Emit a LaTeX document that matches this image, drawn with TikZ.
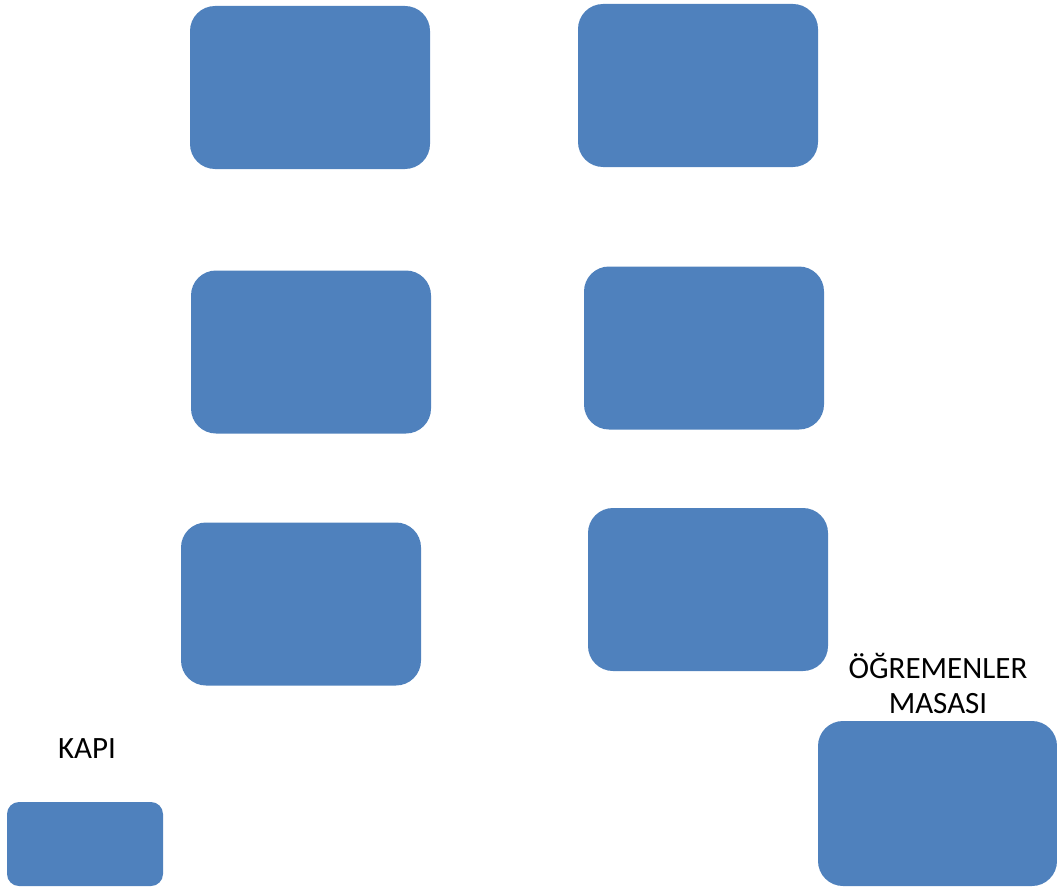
\documentclass[tikz,border=0pt]{standalone}
\usepackage{fontspec}
\setmainfont{Carlito}
\usetikzlibrary{positioning}

\begin{document}
\begin{tikzpicture}[x=1pt, y=-1pt]
        % Define styles
        \tikzset{
            desk/.style={fill=deskblue, draw=none, rounded corners=25pt,
                minimum width=240pt, minimum height=163pt, inner sep=0pt},
            doorbox/.style={fill=deskblue, draw=none, rounded corners=12pt,
                minimum width=156pt, minimum height=84pt, inner sep=0pt},
            label/.style={font=\fontsize{31}{35}\selectfont, align=center, inner sep=0pt}
        }
        \definecolor{deskblue}{HTML}{4F81BD}
        \useasboundingbox (0,0) rectangle (1057,888);
        % Student desks, left row
        \node[desk] (deskA) at (310,87.5) {};
        \node[desk] (deskC) at (311,352) {};
        \node[desk] (deskE) at (301,604) {};
        % Student desks, right row
        \node[desk] (deskB) at (698,85.5) {};
        \node[desk] (deskD) at (704,348) {};
        \node[desk] (deskF) at (708,589.5) {};
        % Door
        \node[doorbox] (door) at (85,844) {};
        \node[label, anchor=base] (doorlabel) at (87,758.5) {KAPI};
        % Teacher's desk
        \node[desk, minimum width=239pt, minimum height=165pt] (teacher) at (937.5,803.5) {};
        \node[label] (teacherlabel) at (938,683.5) {ÖĞREMENLER\\MASASI};
    \end{tikzpicture}
\end{document}
